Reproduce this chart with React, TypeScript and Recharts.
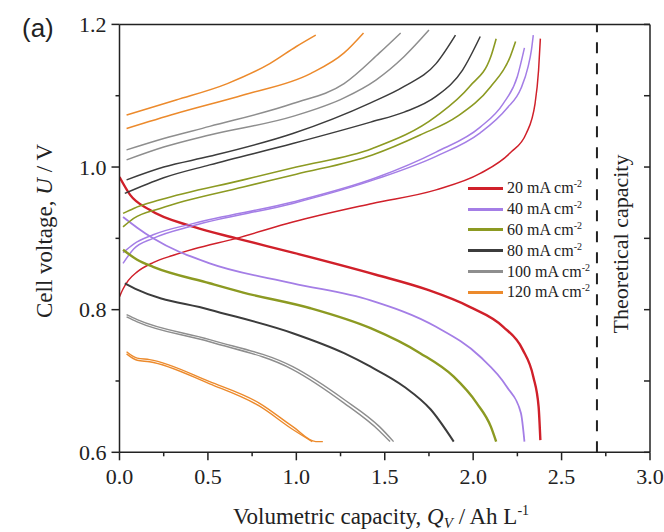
import React from "react";
import { LineChart, Line, XAxis, YAxis, ReferenceLine, Legend, Customized } from "recharts";

const SERIF = "'Liberation Serif', 'Times New Roman', serif";
const INK = "#222";

// [capacity Ah/L, voltage V]
const charge20 = [[0, 0.818], [0.02, 0.829], [0.05, 0.841], [0.1, 0.853], [0.19, 0.866], [0.3, 0.876], [0.42, 0.885], [0.66, 0.9], [0.98, 0.923], [1.43, 0.949], [1.79, 0.968], [2.04, 0.991], [2.21, 1.02], [2.3, 1.047], [2.35, 1.089], [2.37, 1.136], [2.38, 1.18]];
const discharge20 = [[0, 0.986], [0.06, 0.961], [0.17, 0.94], [0.42, 0.916], [0.66, 0.9], [0.98, 0.88], [1.45, 0.849], [1.74, 0.828], [1.98, 0.804], [2.17, 0.776], [2.28, 0.744], [2.34, 0.706], [2.37, 0.664], [2.38, 0.617]];

const charge40a = [[0.02, 0.865], [0.08, 0.885], [0.19, 0.9], [0.42, 0.918], [0.98, 0.949], [1.45, 0.983], [1.79, 1.015], [2.04, 1.048], [2.19, 1.082], [2.27, 1.11], [2.31, 1.14], [2.33, 1.165], [2.34, 1.185]];
const charge40b = [[0.02, 0.88], [0.08, 0.892], [0.19, 0.905], [0.42, 0.921], [0.98, 0.951], [1.45, 0.985], [1.79, 1.021], [2.04, 1.056], [2.17, 1.089], [2.25, 1.127], [2.29, 1.167]];
const discharge40 = [[0.02, 0.93], [0.1, 0.915], [0.19, 0.9], [0.51, 0.865], [0.98, 0.837], [1.42, 0.813], [1.79, 0.776], [2.04, 0.734], [2.19, 0.692], [2.27, 0.655], [2.29, 0.615]];

const charge60a = [[0.02, 0.935], [0.08, 0.942], [0.23, 0.954], [0.7, 0.982], [1.0, 1.0], [1.43, 1.026], [1.79, 1.071], [1.98, 1.113], [2.1, 1.155], [2.13, 1.18]];
const charge60b = [[0.02, 0.916], [0.08, 0.928], [0.23, 0.942], [0.7, 0.972], [1.0, 0.99], [1.43, 1.017], [1.7, 1.045], [1.91, 1.071], [2.1, 1.113], [2.21, 1.155], [2.24, 1.176]];
const discharge60 = [[0.02, 0.884], [0.1, 0.87], [0.19, 0.86], [0.51, 0.837], [0.7, 0.824], [1.08, 0.802], [1.42, 0.774], [1.7, 0.739], [1.89, 0.706], [2.02, 0.669], [2.1, 0.636], [2.13, 0.615]];

const charge80a = [[0.04, 0.982], [0.25, 1.0], [0.51, 1.015], [0.98, 1.047], [1.42, 1.09], [1.61, 1.113], [1.79, 1.145], [1.9, 1.185]];
const charge80b = [[0.03, 0.963], [0.25, 0.985], [0.51, 1.003], [0.98, 1.033], [1.42, 1.063], [1.61, 1.077], [1.79, 1.099], [1.94, 1.136], [2.04, 1.183]];
const discharge80 = [[0.03, 0.837], [0.1, 0.828], [0.51, 0.8], [0.98, 0.767], [1.27, 0.739], [1.42, 0.72], [1.61, 0.692], [1.76, 0.66], [1.89, 0.615]];

const charge100a = [[0.04, 1.024], [0.25, 1.04], [0.51, 1.057], [0.98, 1.089], [1.27, 1.117], [1.47, 1.16], [1.59, 1.188]];
const charge100b = [[0.04, 1.01], [0.25, 1.028], [0.51, 1.045], [0.98, 1.071], [1.27, 1.097], [1.45, 1.122], [1.61, 1.155], [1.75, 1.192]];
const discharge100a = [[0.04, 0.793], [0.1, 0.786], [0.51, 0.758], [0.98, 0.72], [1.27, 0.674], [1.47, 0.636], [1.55, 0.615]];
const discharge100b = [[0.04, 0.79], [0.1, 0.783], [0.51, 0.755], [0.98, 0.716], [1.27, 0.669], [1.47, 0.63], [1.53, 0.615]];

const charge120a = [[0.04, 1.073], [0.32, 1.094], [0.61, 1.117], [0.85, 1.145], [1.0, 1.169], [1.11, 1.185]];
const charge120b = [[0.04, 1.054], [0.32, 1.075], [0.7, 1.101], [1.08, 1.131], [1.27, 1.16], [1.38, 1.188]];
const discharge120a = [[0.04, 0.741], [0.1, 0.732], [0.17, 0.73], [0.51, 0.699], [0.79, 0.669], [0.98, 0.636], [1.11, 0.615], [1.15, 0.615]];
const discharge120b = [[0.04, 0.738], [0.1, 0.729], [0.17, 0.727], [0.51, 0.696], [0.79, 0.665], [0.98, 0.632], [1.09, 0.615]];

const currents = [20, 40, 60, 80, 100, 120];
const colors = ["#d0202a", "#a47ee6", "#8c9a22", "#3c3c3c", "#8e8e8e", "#ec8a2c"];

const xTicks = [0, 0.25, 0.5, 0.75, 1, 1.25, 1.5, 1.75, 2, 2.25, 2.5, 2.75, 3];
const yTicks = [0.6, 0.7, 0.8, 0.9, 1.0, 1.1, 1.2];
const theoreticalCapacity = 2.7;

const curves = [
  { id: "c20", pts: charge20, color: 0, w: 1.5 },
  { id: "d20", pts: discharge20, color: 0, w: 2.4 },
  { id: "c40a", pts: charge40a, color: 1, w: 1.5 },
  { id: "c40b", pts: charge40b, color: 1, w: 1.5 },
  { id: "d40", pts: discharge40, color: 1, w: 1.8 },
  { id: "c60a", pts: charge60a, color: 2, w: 1.6 },
  { id: "c60b", pts: charge60b, color: 2, w: 1.6 },
  { id: "d60", pts: discharge60, color: 2, w: 2.4 },
  { id: "c80a", pts: charge80a, color: 3, w: 1.5 },
  { id: "c80b", pts: charge80b, color: 3, w: 1.5 },
  { id: "d80", pts: discharge80, color: 3, w: 2 },
  { id: "c100a", pts: charge100a, color: 4, w: 1.5 },
  { id: "c100b", pts: charge100b, color: 4, w: 1.5 },
  { id: "d100a", pts: discharge100a, color: 4, w: 1.4 },
  { id: "d100b", pts: discharge100b, color: 4, w: 1.4 },
  { id: "c120a", pts: charge120a, color: 5, w: 1.5 },
  { id: "c120b", pts: charge120b, color: 5, w: 1.5 },
  { id: "d120a", pts: discharge120a, color: 5, w: 1.4 },
  { id: "d120b", pts: discharge120b, color: 5, w: 1.4 },
];

const BottomTick = ({ x, y, payload }: any) => {
  const major = Math.abs(payload.value * 2 - Math.round(payload.value * 2)) < 1e-6;
  return (
    <g>
      <line x1={x} y1={y} x2={x} y2={y + (major ? 8 : 4)} stroke={INK} strokeWidth={1.5} />
      {major && (
        <text x={x} y={y + 32} textAnchor="middle" fontFamily={SERIF} fontSize={22} fill={INK}>
          {payload.value.toFixed(1)}
        </text>
      )}
    </g>
  );
};

const LeftTick = ({ x, y, payload }: any) => {
  const major = Math.round(payload.value * 10) % 2 === 0;
  return (
    <g>
      <line x1={x} y1={y} x2={x - (major ? 8 : 4)} y2={y} stroke={INK} strokeWidth={1.5} />
      {major && (
        <text x={x - 13} y={y + 7.5} textAnchor="end" fontFamily={SERIF} fontSize={22} fill={INK}>
          {payload.value.toFixed(1)}
        </text>
      )}
    </g>
  );
};

const TopTick = ({ x, y }: any) => <line x1={x} y1={y} x2={x} y2={y + 6} stroke={INK} strokeWidth={1.5} />;
const RightTick = ({ x, y }: any) => <line x1={x} y1={y} x2={x - 6} y2={y} stroke={INK} strokeWidth={1.5} />;

const Titles = () => (
  <g fontFamily={SERIF} fill={INK}>
    <text x={22} y={37} fontFamily="'Liberation Sans', Arial, sans-serif" fontSize={26}>(a)</text>
    <text x={52} y={231} transform="rotate(-90, 52, 231)" textAnchor="middle" fontSize={23}>
      Cell voltage, <tspan fontStyle="italic">U</tspan> / V
    </text>
    <text x={381} y={524} textAnchor="middle" fontSize={23}>
      Volumetric capacity, <tspan fontStyle="italic">Q</tspan>
      <tspan fontStyle="italic" fontSize={15} dy={4}>V</tspan>
      <tspan dy={-4}> / Ah L</tspan>
      <tspan fontSize={14} dy={-9}>-1</tspan>
    </text>
  </g>
);

const TheoryLabel = () => (
  <text x={628} y={244} transform="rotate(-90, 628, 244)" textAnchor="middle" fontFamily={SERIF} fontSize={22} fill={INK}>
    Theoretical capacity
  </text>
);

const LegendBox = () => (
  <div style={{ fontFamily: SERIF, fontSize: 16, color: INK }}>
    {currents.map((c, i) => (
      <div key={c} style={{ display: "flex", alignItems: "center", height: 20.8 }}>
        <div style={{ width: 35, height: 3, background: colors[i], marginRight: 4 }} />
        <span>
          {c} mA cm<sup style={{ fontSize: 10, verticalAlign: "6px", lineHeight: 0 }}>-2</sup>
        </span>
      </div>
    ))}
  </div>
);

export default function App() {
  return (
    <div style={{ position: "absolute", left: 0, top: 0, background: "#fff" }}>
      <LineChart width={664} height={532} margin={{ top: 0, right: 0, bottom: 0, left: 0 }}>
        <XAxis xAxisId="b" dataKey="x" type="number" domain={[0, 3]} ticks={xTicks} interval={0}
          height={79.7} tickSize={0} tickMargin={0} tick={<BottomTick />} stroke={INK} axisLine={{ stroke: INK, strokeWidth: 1.5 }} allowDataOverflow />
        <XAxis xAxisId="t" orientation="top" type="number" domain={[0, 3]} ticks={xTicks} interval={0}
          height={24.4} tickSize={0} tickMargin={0} tick={<TopTick />} axisLine={{ stroke: INK, strokeWidth: 1.5 }} allowDataOverflow />
        <YAxis yAxisId="l" type="number" domain={[0.6, 1.2]} ticks={yTicks} interval={0}
          width={119.5} tickSize={0} tickMargin={0} tick={<LeftTick />} axisLine={{ stroke: INK, strokeWidth: 1.5 }} allowDataOverflow />
        <YAxis yAxisId="r" orientation="right" type="number" domain={[0.6, 1.2]} ticks={yTicks} interval={0}
          width={14} tickSize={0} tickMargin={0} tick={<RightTick />} axisLine={{ stroke: INK, strokeWidth: 1.5 }} allowDataOverflow />
        <ReferenceLine x={theoreticalCapacity} xAxisId="b" yAxisId="l" stroke={INK} strokeWidth={2}
          strokeDasharray="11 10" label={<TheoryLabel />} />
        {curves.map((c) => (
          <Line key={c.id} xAxisId="b" yAxisId="l" data={c.pts.map(([x, v]) => ({ x, v }))} dataKey="v"
            type="monotone" dot={false} stroke={colors[c.color]} strokeWidth={c.w} isAnimationActive={false} legendType="none" />
        ))}
        <Legend layout="vertical" align="center" verticalAlign="middle" content={<LegendBox />}
          wrapperStyle={{ position: "absolute", left: 468, top: 178, width: 140, height: 126 }} />
        <Customized component={<Titles />} />
      </LineChart>
    </div>
  );
}
